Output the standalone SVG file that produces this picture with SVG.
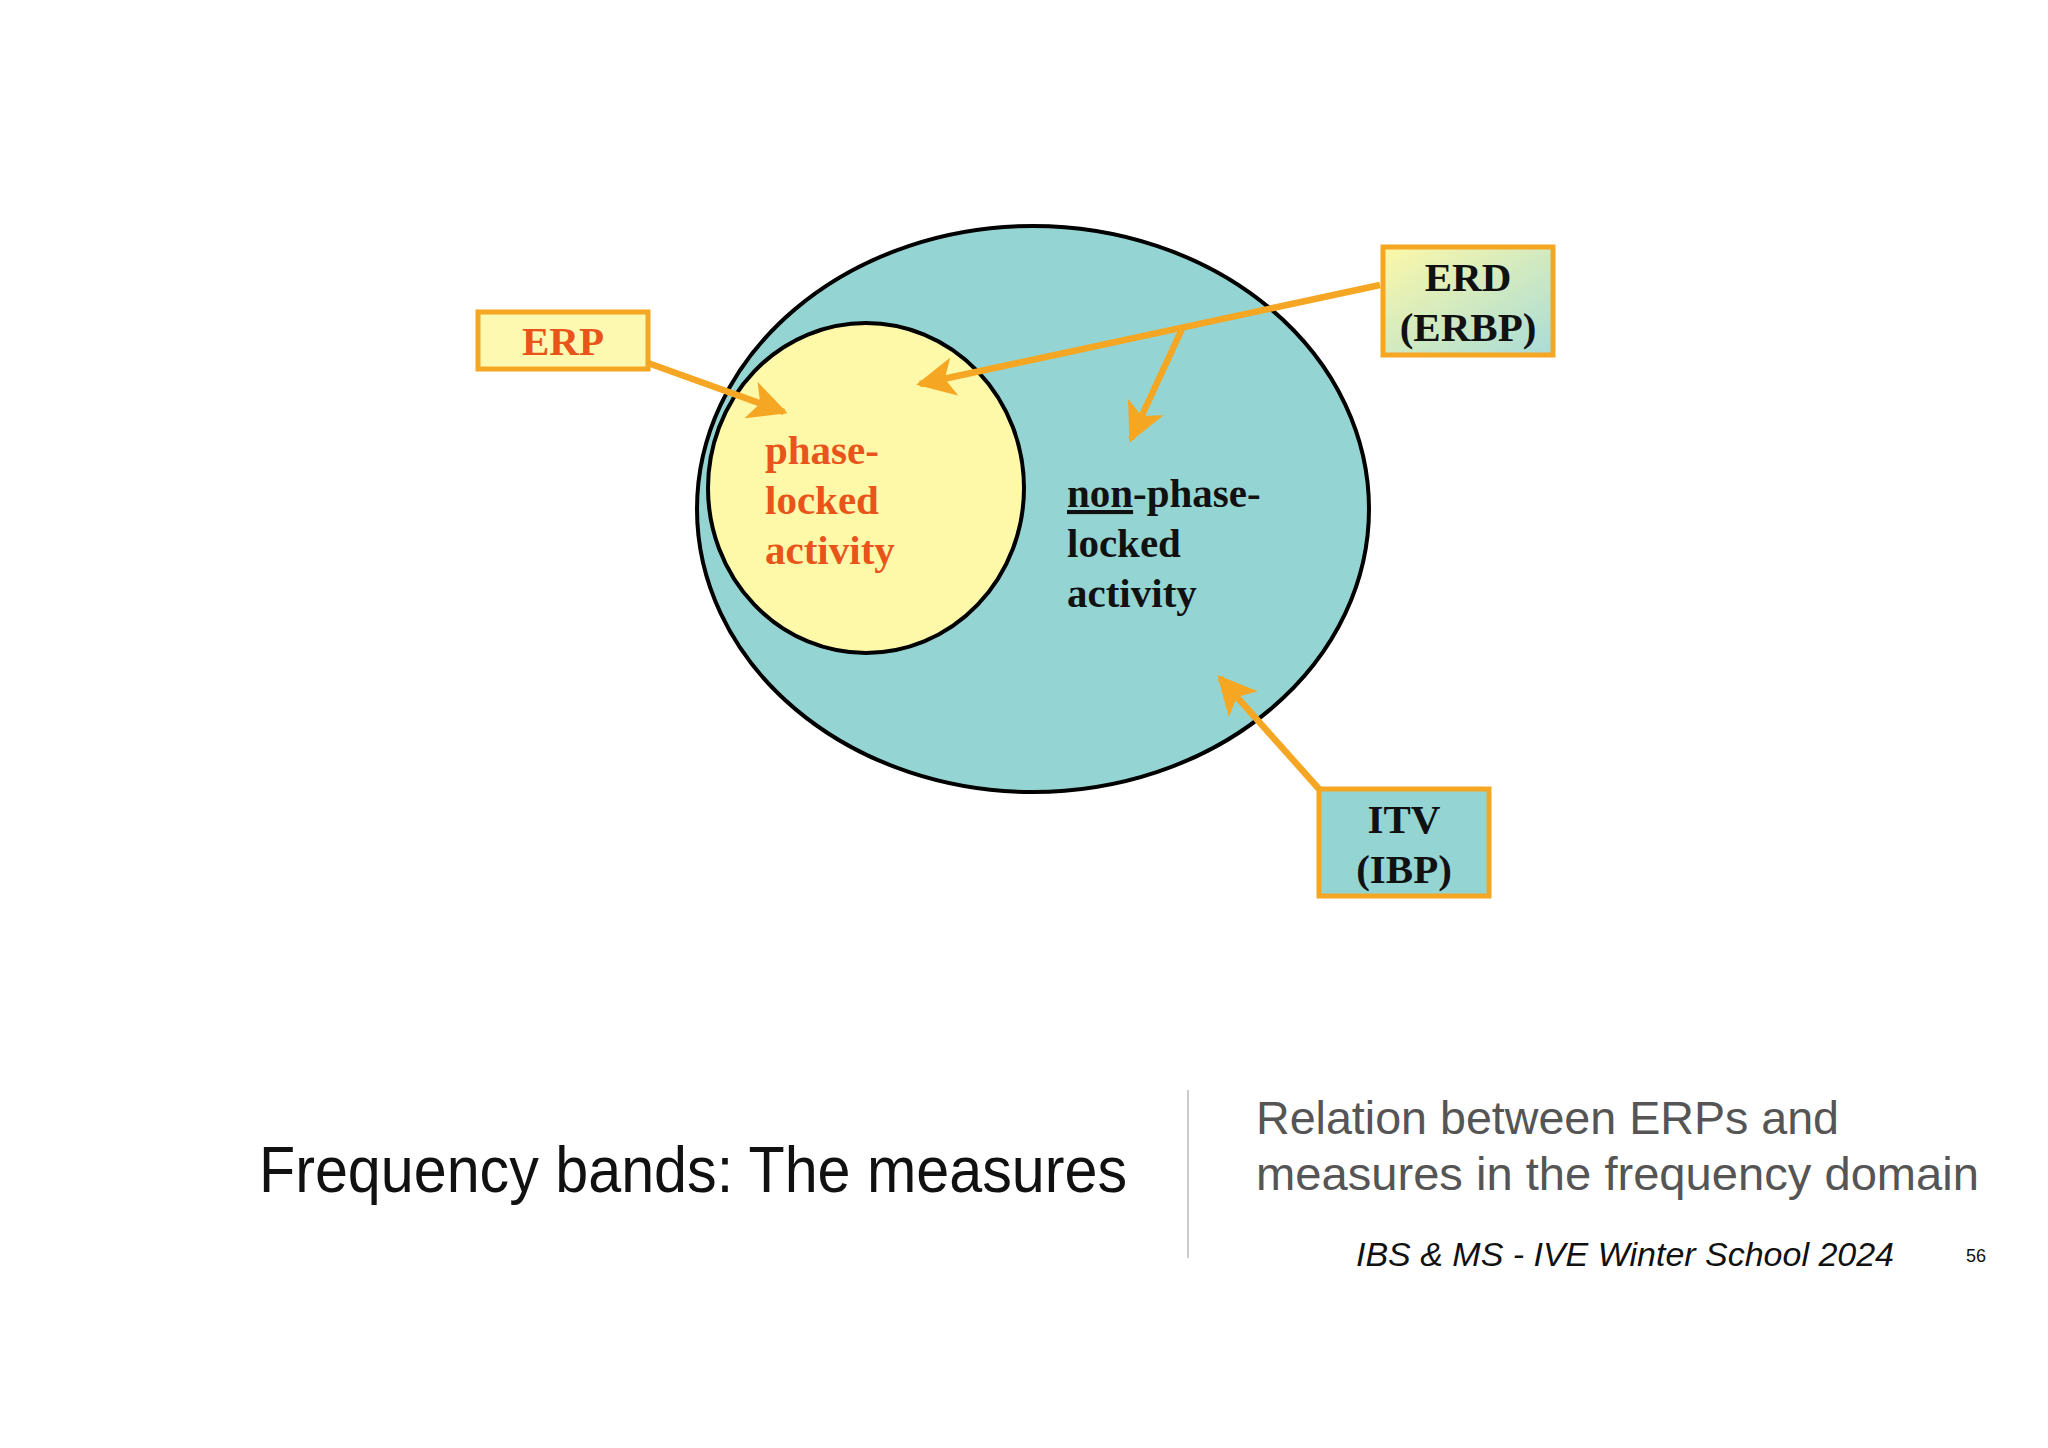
<svg xmlns="http://www.w3.org/2000/svg" width="2048" height="1448" viewBox="0 0 2048 1448">
<style>
.b{font-family:"Liberation Serif",serif;font-weight:bold;font-size:41px}
.box{stroke:#f5a623;stroke-width:5}
.arr{stroke:#f5a623;stroke-width:6.5;fill:none;marker-end:url(#ah)}
.s{font-family:"Liberation Sans",Arial,sans-serif}
</style>
<defs>
<marker id="ah" viewBox="0 0 10 10" refX="9" refY="5" markerWidth="6" markerHeight="6" orient="auto" markerUnits="strokeWidth">
<path d="M0,0 L10,5 L0,10 L2.5,5 z" fill="#f5a623"/>
</marker>
<linearGradient id="erd" x1="0" y1="0" x2="1" y2="1">
<stop offset="0" stop-color="#fdf8a8"/><stop offset="1" stop-color="#a8dcd8"/>
</linearGradient>
</defs>
<rect width="2048" height="1448" fill="#fff"/>
<g id="outer"><ellipse cx="1033" cy="509" rx="336" ry="283" fill="#94d5d4" stroke="#000" stroke-width="4"/></g>
<g id="inner"><ellipse cx="866" cy="488" rx="158" ry="165" fill="#fdf9a8" stroke="#000" stroke-width="4"/>
<text class="b" fill="#e8541a" x="765" y="464">phase-</text>
<text class="b" fill="#e8541a" x="765" y="514">locked</text>
<text class="b" fill="#e8541a" x="765" y="564">activity</text></g>
<g id="nonphase">
<text class="b" fill="#111" x="1067" y="507"><tspan text-decoration="underline">non</tspan>-phase-</text>
<text class="b" fill="#111" x="1067" y="557">locked</text>
<text class="b" fill="#111" x="1067" y="607">activity</text></g>
<g id="erp"><rect class="box" x="478" y="312" width="170" height="57" fill="#fdf9b0"/>
<text class="b" fill="#e8541a" x="563" y="355" text-anchor="middle">ERP</text></g>
<g id="erd"><rect class="box" x="1383" y="247" width="170" height="108" fill="url(#erd)"/>
<text class="b" fill="#111" x="1468" y="291" text-anchor="middle">ERD</text>
<text class="b" fill="#111" x="1468" y="341" text-anchor="middle">(ERBP)</text></g>
<g id="itv"><rect class="box" x="1319" y="789" width="170" height="107" fill="#94d5d4"/>
<text class="b" fill="#111" x="1404" y="833" text-anchor="middle">ITV</text>
<text class="b" fill="#111" x="1404" y="883" text-anchor="middle">(IBP)</text></g>
<g id="connectors">
<line class="arr" x1="648" y1="363" x2="784" y2="412"/>
<line class="arr" x1="1380" y1="285" x2="920" y2="384"/>
<line class="arr" x1="1182" y1="329" x2="1131" y2="439"/>
<line class="arr" x1="1319" y1="789" x2="1220" y2="678"/>
</g>
<g id="footer">
<text class="s" x="259" y="1192" font-size="64" fill="#111" textLength="868" lengthAdjust="spacingAndGlyphs">Frequency bands: The measures</text>
<line x1="1188" y1="1090" x2="1188" y2="1258" stroke="#bbb" stroke-width="1.5"/>
<text class="s" x="1256" y="1134" font-size="46" fill="#555" textLength="583" lengthAdjust="spacingAndGlyphs">Relation between ERPs and</text>
<text class="s" x="1256" y="1190" font-size="46" fill="#555" textLength="723" lengthAdjust="spacingAndGlyphs">measures in the frequency domain</text>
<text class="s" x="1356" y="1266" font-size="33" font-style="italic" fill="#111" textLength="538" lengthAdjust="spacingAndGlyphs">IBS &amp; MS - IVE Winter School 2024</text>
<text class="s" x="1966" y="1262" font-size="18" fill="#111">56</text>
</g>
</svg>
